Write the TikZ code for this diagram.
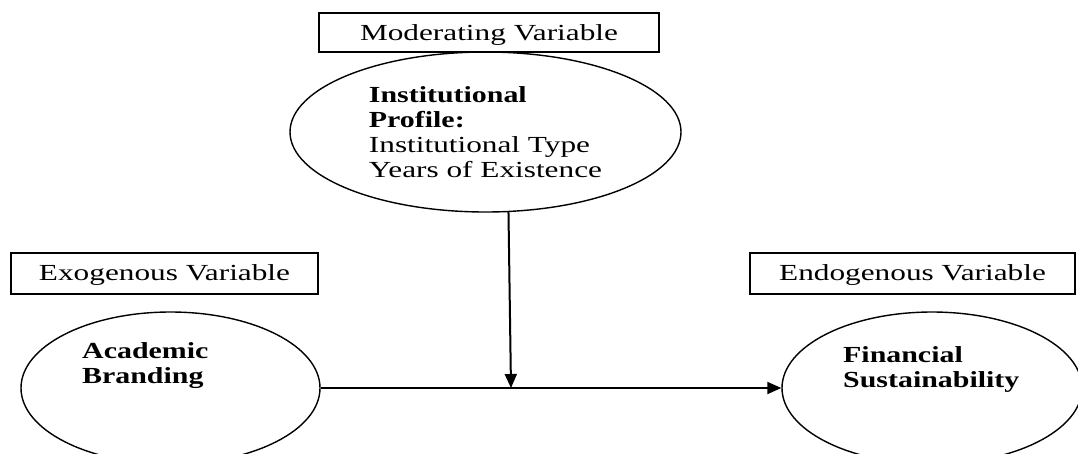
\documentclass[tikz,border=0pt]{standalone}
\usepackage{fontspec}
\setmainfont{Liberation Serif}[FakeStretch=1.36,BoldFeatures={FakeStretch=1.30}]
\usetikzlibrary{arrows.meta,shapes.geometric}
\begin{document}
\begin{tikzpicture}[x=1pt,y=-1pt,
  every node/.style={font=\fontsize{23}{25}\selectfont},
  varbox/.style={draw, line width=1.3pt, rectangle, inner sep=0pt, text height=20pt, text depth=4pt},
  construct/.style={draw, line width=1.4pt, ellipse, inner sep=0pt},
  inlabel/.style={align=left, inner sep=0pt, anchor=north west, font=\fontsize{23}{25}\selectfont\bfseries},
  link/.style={line width=2pt, -{Triangle[length=14pt,width=12pt]}}
]
\useasboundingbox (0,0) rectangle (1078,453);
\node[varbox, minimum width=340pt, minimum height=39pt] (modbox) at (489,32.5) {Moderating Variable};
\node[varbox, minimum width=307pt, minimum height=41pt, text height=17pt] (exobox) at (164.5,273.5) {Exogenous Variable};
\node[varbox, minimum width=325pt, minimum height=41pt, text height=17pt] (endobox) at (912.5,273.5) {Endogenous Variable};
\node[construct, minimum width=391pt, minimum height=160pt, align=left] (mod) at (485.5,132)
  {\textbf{Institutional}\\\textbf{Profile:}\\Institutional Type\\Years of Existence};
\node[construct, minimum width=299pt, minimum height=152pt] (ab) at (170.5,388) {};
\node[construct, minimum width=300pt, minimum height=152pt] (fs) at (932,388) {};
\node[inlabel] (abt) at (82,342) {Academic\\Branding};
\node[inlabel] (fst) at (843,346) {Financial\\Sustainability};
\coordinate (m) at (511,388);
\draw[link] (ab.east) -- (fs.west);
\draw[link] (mod.-74.5) -- (m);
\end{tikzpicture}
\end{document}
